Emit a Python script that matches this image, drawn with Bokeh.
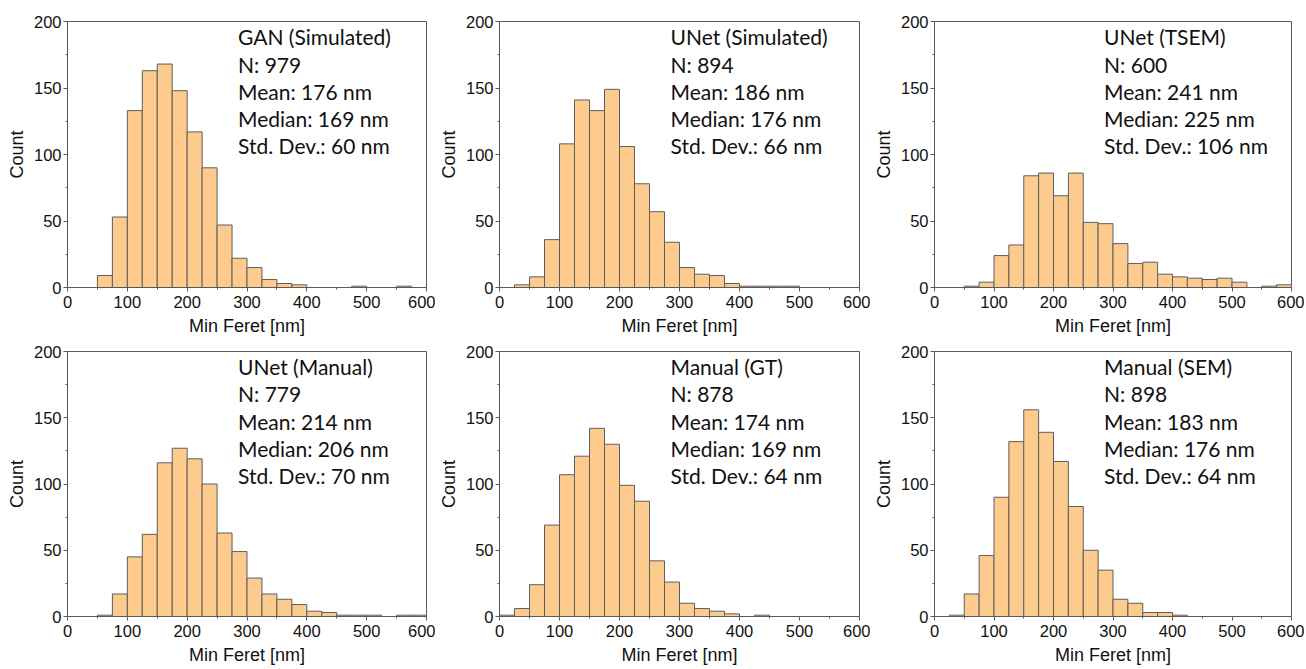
from bokeh.plotting import figure
from bokeh.layouts import column, row
from bokeh.models import Label, FixedTicker, ColumnDataSource
from bokeh.embed import file_html
from bokeh.resources import INLINE

# ---------------- data ----------------
bin_left = [0, 25, 50, 75, 100, 125, 150, 175, 200, 225, 250, 275,
            300, 325, 350, 375, 400, 425, 450, 475, 500, 525, 550, 575]
bin_width = 25

gan_sim = [0, 0, 9, 53, 133, 163, 168, 148, 117, 90, 47, 22,
           15, 6, 3, 2, 0, 0, 0, 1, 0, 0, 1, 0]
unet_sim = [0, 2, 8, 36, 108, 141, 133, 149, 106, 78, 57, 34,
            15, 10, 9, 3, 1, 1, 1, 1, 0, 0, 0, 0]
unet_tsem = [0, 0, 1, 4, 24, 32, 84, 86, 69, 86, 49, 48,
             33, 18, 19, 10, 8, 7, 6, 7, 4, 0, 1, 2]
unet_manual = [0, 0, 1, 17, 45, 62, 116, 127, 119, 100, 63, 49,
               29, 17, 13, 9, 4, 3, 1, 1, 1, 0, 1, 1]
manual_gt = [1, 6, 24, 69, 107, 121, 142, 130, 99, 87, 42, 26,
             10, 6, 4, 2, 0, 1, 0, 0, 0, 0, 0, 0]
manual_sem = [0, 1, 17, 46, 90, 132, 156, 139, 117, 83, 50, 35,
              13, 10, 3, 3, 1, 0, 0, 0, 0, 0, 0, 0]

titles = ["GAN (Simulated)", "UNet (Simulated)", "UNet (TSEM)",
          "UNet (Manual)", "Manual (GT)", "Manual (SEM)"]
n_values = [979, 894, 600, 779, 878, 898]
means = [176, 186, 241, 214, 174, 183]
medians = [169, 176, 225, 206, 169, 176]
std_devs = [60, 66, 106, 70, 64, 64]
series = [gan_sim, unet_sim, unet_tsem, unet_manual, manual_gt, manual_sem]

x_ticks = [0, 100, 200, 300, 400, 500, 600]
y_ticks = [0, 50, 100, 150, 200]

# ---------------- style ----------------
BAR_FILL = "#FDCB8E"
BAR_LINE = "#5e5e5e"
AXIS_COL = "#595959"
TICK_FONT = "Liberation Sans"
ANN_FONT = "Lato"

col_widths = [435, 435, 434]
col_left = [67, 64, 62]
frame_w = [359, 360, 359]
row_heights = [338, 329]
row_top = [21, 13]
frame_h = [267, 266]


def make_panel(i):
    r, c = divmod(i, 3)
    w = col_widths[c]
    h = row_heights[r]
    ml = col_left[c]
    mr = w - ml - frame_w[c]
    mt = row_top[r]
    mb = h - mt - frame_h[r]
    p = figure(width=w, height=h, x_range=(0, 600), y_range=(0, 200),
               output_backend="svg", toolbar_location=None,
               min_border_left=ml, min_border_right=mr,
               min_border_top=mt, min_border_bottom=mb)
    counts = series[i]
    left = [b for b, v in zip(bin_left, counts) if v > 0]
    top = [v for v in counts if v > 0]
    right = [b + bin_width for b in left]
    src = ColumnDataSource(dict(left=left, right=right, top=top,
                                bottom=[0] * len(top)))
    p.quad(left="left", right="right", top="top", bottom="bottom", source=src,
           fill_color=BAR_FILL, line_color=BAR_LINE, line_width=1)

    p.grid.visible = False
    p.outline_line_color = AXIS_COL
    p.outline_line_width = 1
    p.background_fill_color = "white"
    p.border_fill_color = "white"

    for ax, ticks, label in ((p.xaxis[0], x_ticks, "Min Feret [nm]"),
                             (p.yaxis[0], y_ticks, "Count")):
        minor = []
        for a, b in zip(ticks[:-1], ticks[1:]):
            minor.append((a + b) / 2)
        ax.ticker = FixedTicker(ticks=ticks, minor_ticks=minor)
        ax.axis_label = label
        ax.axis_label_text_font = TICK_FONT
        ax.axis_label_text_font_style = "normal"
        ax.axis_label_text_font_size = "18px"
        ax.axis_label_text_color = "#111111"
        ax.major_label_text_font = TICK_FONT
        ax.major_label_text_font_size = "16.5px"
        ax.major_label_text_color = "#111111"
        ax.axis_line_color = AXIS_COL
        ax.major_tick_line_color = AXIS_COL
        ax.minor_tick_line_color = AXIS_COL
        ax.major_tick_out = 4
        ax.major_tick_in = 0
        ax.minor_tick_out = 2
        ax.minor_tick_in = 0
        ax.major_label_standoff = 2
        ax.axis_label_standoff = 4
    p.xaxis[0].major_label_standoff = 4
    p.xaxis[0].axis_label_standoff = 5

    lines = [titles[i], f"N: {n_values[i]}", f"Mean: {means[i]} nm",
             f"Median: {medians[i]} nm", f"Std. Dev.: {std_devs[i]} nm"]
    for k, t in enumerate(lines):
        p.add_layout(Label(x=285, y=188.5 - 20.5 * k, text=t,
                           text_font=ANN_FONT, text_font_size="21px",
                           text_color="#111111", text_baseline="alphabetic",
                           text_align="left"))
    return p


panels = [make_panel(i) for i in range(6)]
layout = column(row(*panels[:3]), row(*panels[3:]))
open("out.html", "w").write(file_html(layout, INLINE))
